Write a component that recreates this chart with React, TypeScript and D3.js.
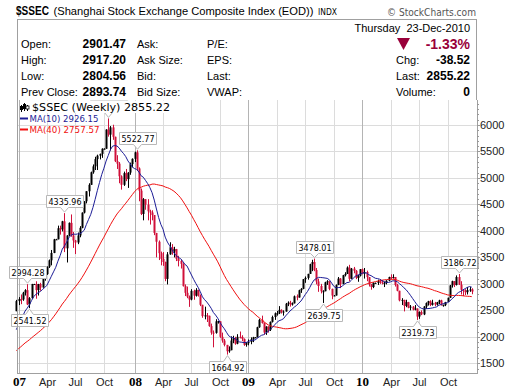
import React from "react";
import * as d3 from "d3";

// ---------- DATA (weekly, week starting Monday) ----------
// 2006 weekly closes before the visible range (used for moving averages)
const preCloses2006 = [
  1299, 1326, 1372, 1390, 1440, 1440, 1570, 1620, 1580, 1642,
  1576, 1580, 1651, 1672, 1720, 1730, 1640, 1640, 1640, 1604,
  1600, 1610, 1660, 1650, 1720, 1745, 1752, 1752, 1808, 1830,
  1838, 1881, 1930, 1978, 2068, 2082, 2185, 2241, 2484,
];

const closes2006 = [2675];
const highs2006 = [2698];
const lows2006 = [2510];

const closes2007 = [
  2715, 2706, 2833, 2882, 2612, 2730, 2998, 2998, 2882, 2997, 2931, 3093, 3184,
  3323, 3444, 3584, 3841, 3841, 4050, 4030, 4181, 3671, 3913, 4152, 3914, 3820,
  3781, 3914, 4058, 4345, 4560, 4749, 4870, 5107, 5219, 5356, 5421, 5454, 5552,
  5552, 5913, 5818, 5955, 5777, 5316, 5270, 5032, 4871, 5091, 4978, 5101, 5262, 5361,
];
const highs2007 = [
  2750, 2800, 2850, 2900, 2994.28, 2750, 3000, 3000, 3049, 3000, 3020, 3100, 3200,
  3330, 3460, 3640, 3850, 3850, 4100, 4100, 4190, 4335.96, 3920, 4160, 4311, 3980,
  3830, 3970, 4090, 4350, 4560, 4750, 4900, 5120, 5255, 5400, 5440, 5460, 5560,
  5560, 5920, 6124.04, 5980, 6005, 5780, 5430, 5300, 5050, 5120, 5170, 5110, 5290, 5370,
];
const lows2007 = [
  2600, 2617, 2680, 2780, 2600, 2541.52, 2720, 2990, 2720, 2780, 2870, 2930, 3060,
  3170, 3300, 3350, 3580, 3830, 3860, 3930, 3990, 3600, 3404, 3900, 3890, 3680,
  3563, 3750, 3880, 4050, 4330, 4520, 4650, 4870, 5080, 5150, 5150, 5350, 5380,
  5540, 5650, 5780, 5520, 5720, 5300, 5170, 4900, 4780, 4850, 4940, 4812, 5060, 5200,
];

const closes2008 = [
  5484, 5180, 4761, 4320, 4599, 4497, 4370, 4348, 4300, 3962, 3796, 3580, 3472,
  3413, 3094, 3557, 3693, 3613, 3656, 3473, 3433, 3379, 2957, 2831, 2760, 2704,
  2869, 2777, 2886, 2776, 2605, 2392, 2405, 2397, 2203, 2079, 2075, 2293, 2293,
  2000, 1930, 1848, 1728, 1747, 1930, 1970, 1871, 2000, 1998, 1960, 1850, 1880,
];
const highs2008 = [
  5497, 5522.77, 5200, 4800, 4620, 4600, 4600, 4400, 4390, 4250, 3950, 3820, 3610,
  3600, 3420, 3600, 3786, 3750, 3700, 3660, 3530, 3460, 3390, 2990, 2950, 2780,
  2900, 2890, 2920, 2890, 2800, 2580, 2570, 2450, 2400, 2250, 2120, 2333, 2300,
  2170, 2080, 1960, 1840, 1820, 2010, 2020, 2000, 2050, 2100, 2030, 1970, 1900,
];
const lows2008 = [
  5300, 5130, 4560, 4300, 4200, 4400, 4200, 4120, 4200, 3920, 3500, 3450, 3350,
  3340, 3050, 2990, 3550, 3550, 3500, 3430, 3330, 3290, 2950, 2770, 2730, 2566,
  2690, 2700, 2760, 2760, 2580, 2360, 2330, 2280, 2190, 2040, 1802, 2060, 2250,
  1980, 1890, 1820, 1664.92, 1700, 1780, 1880, 1850, 1860, 1970, 1920, 1830, 1814,
];

const closes2009 = [
  1904, 1954, 1990, 1990, 2181, 2320, 2261, 2082, 2193, 2133, 2282, 2374, 2444,
  2444, 2509, 2473, 2477, 2625, 2645, 2610, 2632, 2765, 2743, 2880, 2906, 3088,
  3113, 3189, 3372, 3412, 3261, 3046, 2960, 2860, 2861, 3030, 3049, 2905, 2780,
  2780, 2977, 3100, 2995, 3164, 3187, 3308, 3096, 3288, 3247, 3113, 3155, 3277,
];
const highs2009 = [
  1950, 1990, 2000, 1995, 2190, 2340, 2400, 2270, 2200, 2200, 2290, 2400, 2460,
  2490, 2580, 2520, 2500, 2640, 2670, 2680, 2650, 2780, 2800, 2890, 2920, 3090,
  3140, 3190, 3380, 3455, 3478.01, 3300, 3100, 3000, 2880, 3040, 3070, 3030, 2910,
  2790, 2990, 3130, 3110, 3170, 3220, 3330, 3360, 3300, 3320, 3260, 3170, 3280,
];
const lows2009 = [
  1840, 1860, 1900, 1985, 2000, 2170, 2250, 2040, 2037, 2080, 2110, 2270, 2320,
  2400, 2430, 2440, 2400, 2480, 2580, 2570, 2590, 2630, 2690, 2740, 2830, 2900,
  3020, 3080, 3200, 3240, 3240, 2990, 2850, 2820, 2639.75, 2870, 2980, 2880, 2710,
  2775, 2800, 2990, 2920, 3000, 3140, 3190, 3050, 3120, 3200, 3090, 3040, 3140,
];

const closes2010 = [
  3196, 3224, 3128, 2989, 2940, 3018, 3018, 3051, 3031, 3014, 3018, 3060, 3129,
  3114, 3130, 2979, 2870, 2688, 2697, 2583, 2655, 2553, 2570, 2513, 2535, 2383,
  2470, 2424, 2572, 2637, 2672, 2604, 2642, 2610, 2655, 2688, 2598, 2599, 2656,
  2738, 2971, 3051, 2978, 3129, 2985, 2888, 2871, 2843, 2883, 2894, 2855.22,
];
const highs2010 = [
  3290, 3300, 3250, 3120, 3000, 3030, 3025, 3080, 3090, 3070, 3040, 3070, 3135,
  3180, 3181, 3100, 3000, 2860, 2730, 2700, 2700, 2660, 2600, 2580, 2600, 2530,
  2480, 2500, 2580, 2650, 2680, 2690, 2700, 2660, 2660, 2700, 2700, 2610, 2660,
  2740, 2980, 3060, 3050, 3160, 3186.72, 3050, 2900, 2900, 2940, 2940, 2917.2,
];
const lows2010 = [
  3180, 3100, 3050, 2950, 2890, 2920, 3010, 2980, 3000, 2990, 2940, 2990, 3050,
  3090, 3100, 2950, 2860, 2670, 2600, 2480, 2560, 2540, 2500, 2500, 2500, 2319.73,
  2340, 2410, 2410, 2530, 2590, 2580, 2590, 2580, 2590, 2620, 2590, 2570, 2580,
  2660, 2740, 2930, 2940, 2970, 2980, 2800, 2770, 2790, 2800, 2850, 2804.56,
];

const closes = [...closes2006, ...closes2007, ...closes2008, ...closes2009, ...closes2010];
const highs = [...highs2006, ...highs2007, ...highs2008, ...highs2009, ...highs2010];
const lows = [...lows2006, ...lows2007, ...lows2008, ...lows2009, ...lows2010];

// annotated highs / lows
const annDates = [
  new Date(2007, 0, 29), new Date(2007, 1, 5), new Date(2007, 4, 28), new Date(2007, 9, 15),
  new Date(2008, 0, 14), new Date(2008, 9, 27), new Date(2009, 7, 3), new Date(2009, 7, 31),
  new Date(2010, 5, 28), new Date(2010, 10, 8),
];
const annValues = [2994.28, 2541.52, 4335.96, 6124.04, 5522.77, 1664.92, 3478.01, 2639.75, 2319.73, 3186.72];
const annKinds = ["H", "L", "H", "H", "H", "L", "H", "L", "L", "H"];

const yTicks = [1500, 2000, 2500, 3000, 3500, 4000, 4500, 5000, 5500, 6000];
const monthNames = ["Jan", "Feb", "Mar", "Apr", "May", "Jun", "Jul", "Aug", "Sep", "Oct", "Nov", "Dec"];

// header quote
const quoteLeft = [
  ["Open:", "2901.47", "Ask:", "P/E:"],
  ["High:", "2917.20", "Ask Size:", "EPS:"],
  ["Low:", "2804.56", "Bid:", "Last:"],
  ["Prev Close:", "2893.74", "Bid Size:", "VWAP:"],
];
const quoteRight = [
  ["Chg:", "-38.52"],
  ["Last:", "2855.22"],
  ["Volume:", "0"],
];

const SANS = "'Liberation Sans', Arial, sans-serif";
const VER = "'DejaVu Sans', Verdana, sans-serif";
const SERIF = "'Liberation Serif', 'Times New Roman', serif";
const CANDLE_RED = "#d0103a";
const MAROON = "#99003a";

export default function App() {
  const L = 17, R = 477, T = 100, B = 373;
  const weeks = d3.timeMonday.range(new Date(2006, 11, 25), new Date(2010, 11, 21));
  const xs = d3.scaleTime().domain([new Date(2007, 0, 1), new Date(2011, 0, 1)]).range([18.5, 475.5]);
  const ys = d3.scaleLinear().domain([1317, 6472]).range([B, T]);

  const allCloses = preCloses2006.concat(closes);
  const off = preCloses2006.length;
  const maSeries = (n: number) =>
    closes.map((_, i) => d3.mean(allCloses.slice(i + off - n + 1, i + off + 1)) as number);
  const ma10 = maSeries(10);
  const ma40 = maSeries(40);
  const line = d3.line<number>().x((_, i) => xs(weeks[i])).y((d) => ys(d));

  const quarters = d3.timeMonth.every(3)!.range(new Date(2007, 0, 1), new Date(2011, 0, 1));
  const qTicks = quarters.map((q) => ({ q, w: d3.timeMonday.ceil(q) }));

  const minorTicks = d3.range(1400, 6500, 100);

  // legend area (annotation text hidden beneath it, as in the source chart)
  const legendRight = 172, legendBottom = 113;

  return (
    <svg width={520} height={391} style={{ position: "absolute", left: 0, top: 0, background: "#fff" }}
      fontFamily={SANS}>
      <rect x={0} y={0} width={520} height={391} fill="#fff" />
      {/* Title line */}
      <text x={16} y={15} fontSize={12.5} fontWeight="bold" textLength={33} lengthAdjust="spacingAndGlyphs">$SSEC</text>
      <text x={53.5} y={15} fontSize={11} textLength={260} lengthAdjust="spacingAndGlyphs">(Shanghai Stock Exchange Composite Index (EOD))</text>
      <text x={318} y={15} fontSize={9} fontFamily={VER} textLength={19} lengthAdjust="spacingAndGlyphs">INDX</text>
      <text x={476} y={16} fontSize={10} fontFamily={VER} fill="#555" textAnchor="end" textLength={89} lengthAdjust="spacingAndGlyphs">© StockCharts.com</text>

      {/* Quote box */}
      <rect x={17.5} y={19.5} width={459} height={81} fill="#fff" stroke="#a0a0a0" />
      {quoteLeft.map((r, i) => {
        const by = 47.5 + i * 16;
        return (
          <g key={i} fontSize={11}>
            <text x={21} y={by}>{r[0]}</text>
            <text x={126} y={by} fontSize={12} fontWeight="bold" textAnchor="end">{r[1]}</text>
            <text x={137} y={by}>{r[2]}</text>
            <text x={207} y={by}>{r[3]}</text>
          </g>
        );
      })}
      <text x={470} y={32} fontSize={11} textAnchor="end" xmlSpace="preserve">Thursday  23-Dec-2010</text>
      <path d="M397,38 L410,38 L403.5,50 Z" fill={MAROON} />
      <text x={470} y={49} fontSize={14} fontWeight="bold" fill={MAROON} textAnchor="end">-1.33%</text>
      {quoteRight.map((r, i) => {
        const by = 63.5 + i * 16;
        return (
          <g key={i}>
            <text x={396} y={by} fontSize={11}>{r[0]}</text>
            <text x={470} y={by} fontSize={12} fontWeight="bold" textAnchor="end">{r[1]}</text>
          </g>
        );
      })}

      {/* Plot area */}
      <rect x={L} y={T} width={R - L} height={B - T} fill="#fff" />
      {yTicks.map((t) => (
        <line key={t} x1={L} x2={R} y1={Math.round(ys(t)) + 0.5} y2={Math.round(ys(t)) + 0.5} stroke="#dcdcdc" />
      ))}
      {qTicks.map(({ q, w }, i) => {
        const x = Math.round(xs(w)) + 0.5;
        const isYear = q.getMonth() === 0;
        return <line key={i} x1={x} x2={x} y1={T} y2={B} stroke={isYear ? "#b4b4b4" : "#dcdcdc"} />;
      })}

      {/* Candles */}
      {weeks.map((w, i) => {
        const o = i === 0 ? preCloses2006[off - 1] : closes[i - 1];
        const c = closes[i];
        const hi = Math.max(highs[i], o, c);
        const lo = Math.min(lows[i], o, c);
        const col = c >= o ? "#000" : CANDLE_RED;
        const cx = Math.round(xs(w));
        const top = ys(Math.max(o, c));
        const bot = ys(Math.min(o, c));
        return (
          <g key={i} fill={col}>
            <rect x={cx} width={1} y={ys(hi)} height={Math.max(1, ys(lo) - ys(hi))} />
            <rect x={cx - 0.5} width={2} y={top} height={Math.max(1, bot - top)} />
          </g>
        );
      })}

      {/* Moving averages */}
      <path d={line(ma40) || ""} fill="none" stroke="#f01010" strokeWidth={1} />
      <path d={line(ma10) || ""} fill="none" stroke="#1c1c96" strokeWidth={1} />

      {/* Annotations */}
      {annDates.map((d, i) => {
        const px = Math.round(xs(d)) + 0.5;
        const isH = annKinds[i] === "H";
        const tip = isH ? ys(annValues[i]) - 1 : ys(annValues[i]) + 1;
        const bw = 37, bh = 12;
        const bx0 = Math.round(px - bw / 2) + 0.5, bx1 = bx0 + bw;
        let p: string;
        let bt: number;
        if (isH) {
          const bb = Math.round(tip - 5) + 0.5;
          bt = bb - bh;
          p = `M${bx0},${bt} H${bx1} V${bb} H${px + 4} L${px},${tip} L${px - 4},${bb} H${bx0} Z`;
        } else {
          bt = Math.round(tip + 5) + 0.5;
          const bb = bt + bh;
          p = `M${bx0},${bt} H${px - 4} L${px},${tip} L${px + 4},${bt} H${bx1} V${bb} H${bx0} Z`;
        }
        const hidden = bt < legendBottom && bx0 < legendRight;
        return (
          <g key={i}>
            <path d={p} fill="#fff" stroke="#b8b8b8" />
            {!hidden && (
              <text x={bx0 + bw / 2} y={bt + 9.5} fontSize={8.5} fontFamily={VER} textAnchor="middle"
                textLength={33} lengthAdjust="spacingAndGlyphs">{annValues[i].toFixed(2)}</text>
            )}
          </g>
        );
      })}

      {/* Legend */}
      <rect x={30} y={100.5} width={legendRight - 30} height={legendBottom - 100.5} fill="#fff" />
      <g fill="#000">
        <rect x={21} y={105} width={1} height={7} />
        <rect x={20} y={106} width={3} height={4} />
        <rect x={24} y={103} width={1} height={8} />
        <rect x={23} y={104} width={3} height={5} />
        <rect x={27} y={105} width={1} height={6} />
        <rect x={26} y={106} width={3} height={3} fill="#fff" stroke="#000" strokeWidth={0.8} />
      </g>
      <text x={32} y={111} fontSize={10.5} fontFamily={VER} textLength={138} lengthAdjust="spacingAndGlyphs">$SSEC (Weekly) 2855.22</text>
      <line x1={20} x2={28} y1={118.5} y2={118.5} stroke="#1c1c96" strokeWidth={2} />
      <text x={29.5} y={122} fontSize={9.5} fontFamily={VER} fill="#1c1c96" textLength={69} lengthAdjust="spacingAndGlyphs">MA(10) 2926.15</text>
      <line x1={20} x2={28} y1={129.5} y2={129.5} stroke="#f01010" strokeWidth={2} />
      <text x={29.5} y={133} fontSize={9.5} fontFamily={VER} fill="#f01010" textLength={70} lengthAdjust="spacingAndGlyphs">MA(40) 2757.57</text>

      {/* Frame */}
      <line x1={L + 0.5} x2={L + 0.5} y1={T} y2={B} stroke="#a0a0a0" />
      <line x1={L} x2={R} y1={B + 0.5} y2={B + 0.5} stroke="#a0a0a0" />
      <line x1={R + 0.5} x2={R + 0.5} y1={T} y2={B + 1} stroke="#a0a0a0" />

      {/* Right axis */}
      {minorTicks.map((t) => {
        const y = Math.round(ys(t)) + 0.5;
        if (y < T || y > B) return null;
        const major = t % 500 === 0;
        return <line key={t} x1={R} x2={R + (major ? 3 : 2)} y1={y} y2={y} stroke="#999" />;
      })}
      {yTicks.map((t) => (
        <text key={t} x={480} y={ys(t) + 4} fontSize={11} fill="#222">{t}</text>
      ))}

      {/* Bottom axis labels */}
      {qTicks.map(({ q, w }, i) => {
        const x = Math.round(xs(w)) + 0.5;
        const isYear = q.getMonth() === 0;
        return isYear ? (
          <text key={i} x={x} y={386} fontSize={13} fontWeight="bold" fontFamily={SERIF} textAnchor="middle">
            {d3.timeFormat("%y")(q)}
          </text>
        ) : (
          <text key={i} x={x} y={386} fontSize={11} fill="#222" textAnchor="middle">
            {monthNames[q.getMonth()]}
          </text>
        );
      })}
    </svg>
  );
}
